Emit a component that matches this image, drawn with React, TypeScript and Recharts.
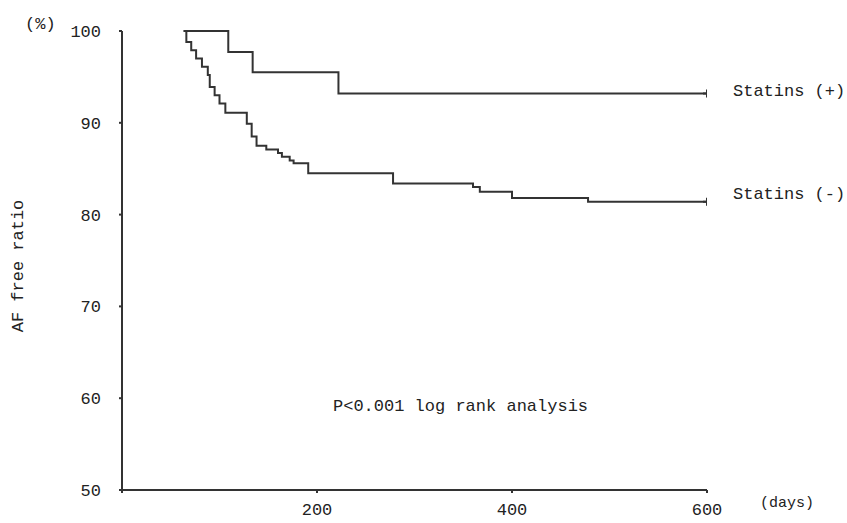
import { LineChart, Line, XAxis, YAxis } from 'recharts';

// Statins (+) survival curve (days, AF free %)
const plusDays = [65, 109, 134, 222, 600];
const plusRatio = [100, 97.7, 95.5, 93.2, 93.2];

// Statins (-) survival curve
const minusDays = [
  63, 66, 71, 76, 82, 88, 90, 95, 100, 106, 128, 133, 138, 148, 160, 164, 172, 176, 191,
  278, 360, 367, 400, 478, 600,
];
const minusRatio = [
  100, 98.8, 97.9, 97.0, 96.1, 95.2, 93.9, 93.0, 92.1, 91.1, 89.9, 88.5, 87.5, 87.1, 86.7, 86.3,
  85.9, 85.6, 84.5, 83.4, 83.0, 82.5, 81.8, 81.4, 81.4,
];

const xTicks = [0, 200, 400, 600];
const yTicks = [50, 60, 70, 80, 90, 100];

const plusData = plusDays.map((d, i) => ({ day: d, ratio: plusRatio[i] }));
const minusData = minusDays.map((d, i) => ({ day: d, ratio: minusRatio[i] }));

const FONT = '"Liberation Mono", monospace';
const INK = '#333';

const censorMark = (len: number) => (props: any) => {
  const { cx, cy, index } = props;
  if (index !== len - 1) return <g key={`d-${index}`} />;
  return (
    <path
      key={`d-${index}`}
      d={`M${cx - 4},${cy}h8M${cx},${cy - 4}v8`}
      stroke={INK}
      strokeWidth={2}
      fill="none"
    />
  );
};

const textStyle: React.CSSProperties = {
  position: 'absolute',
  fontFamily: FONT,
  fontSize: 17,
  lineHeight: '20px',
  color: '#222',
  whiteSpace: 'nowrap',
};

export default function App() {
  return (
    <div style={{ position: 'absolute', left: 0, top: 0, width: 847, height: 523, background: '#fff' }}>
      <LineChart width={847} height={523} margin={{ top: 31, right: 140, bottom: 3, left: 0 }}>
        <XAxis
          dataKey="day"
          type="number"
          domain={[0, 600]}
          ticks={xTicks}
          height={30}
          allowDataOverflow
          tickFormatter={(v: number) => (v === 0 ? '' : String(v))}
          stroke={INK}
          strokeWidth={2}
          tickSize={3}
          tickMargin={10}
          tick={{ fill: '#222', fontFamily: FONT, fontSize: 17 }}
        />
        <YAxis
          dataKey="ratio"
          type="number"
          domain={[50, 100]}
          ticks={yTicks}
          width={122}
          stroke={INK}
          strokeWidth={2}
          tickSize={3}
          tickMargin={18}
          tick={{ fill: '#222', fontFamily: FONT, fontSize: 17 }}
        />
        <Line
          data={plusData}
          dataKey="ratio"
          type="stepAfter"
          stroke={INK}
          strokeWidth={2}
          dot={censorMark(plusData.length)}
          activeDot={false}
          isAnimationActive={false}
        />
        <Line
          data={minusData}
          dataKey="ratio"
          type="stepAfter"
          stroke={INK}
          strokeWidth={2}
          dot={censorMark(minusData.length)}
          activeDot={false}
          isAnimationActive={false}
        />
      </LineChart>
      <div style={{ ...textStyle, left: 25, top: 15 }}>(%)</div>
      <div style={{ ...textStyle, left: 760, top: 494, fontSize: 15 }}>(days)</div>
      <div style={{ ...textStyle, left: 733, top: 82 }}>Statins (+)</div>
      <div style={{ ...textStyle, left: 733, top: 185 }}>Statins (-)</div>
      <div style={{ ...textStyle, left: 333, top: 397 }}>P&lt;0.001 log rank analysis</div>
      <div
        style={{
          ...textStyle,
          left: 19,
          top: 266,
          transform: 'translate(-50%, -50%) rotate(-90deg)',
        }}
      >
        AF free ratio
      </div>
    </div>
  );
}
